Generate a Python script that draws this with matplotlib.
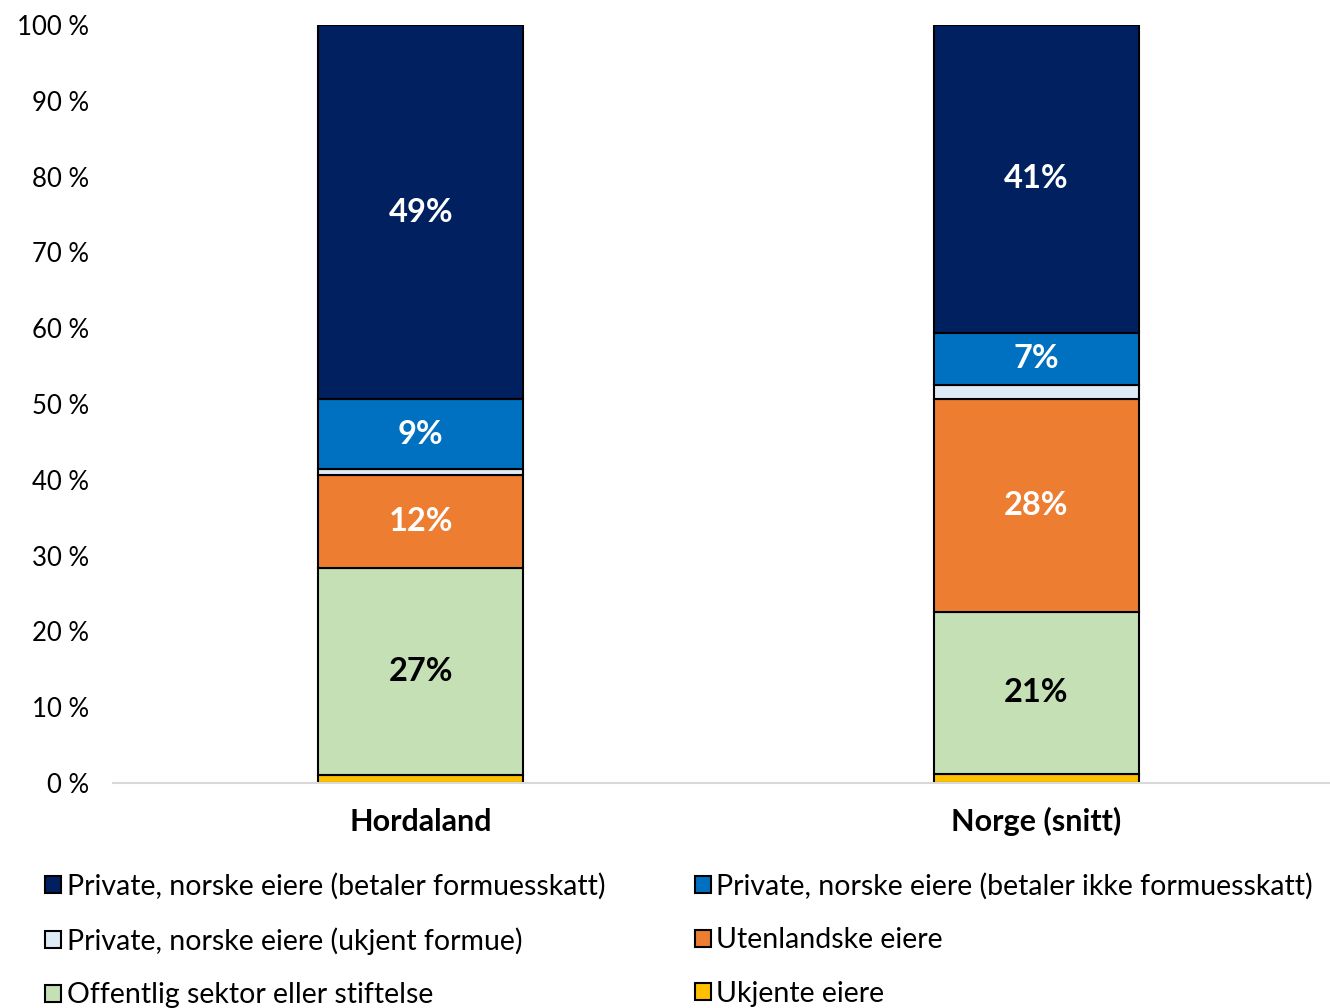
import matplotlib.pyplot as plt
import numpy as np

categories = ["Hordaland", "Norge (snitt)"]
series_names = [
    "Ukjente eiere",
    "Offentlig sektor eller stiftelse",
    "Utenlandske eiere",
    "Private, norske eiere (ukjent formue)",
    "Private, norske eiere (betaler ikke formuesskatt)",
    "Private, norske eiere (betaler formuesskatt)",
]
# shares in percent, bottom to top
ukjente = [1.0, 1.2]
offentlig = [27.4, 21.4]
utenlandske = [12.3, 28.1]
ukjent_formue = [0.7, 1.8]
ikke_formuesskatt = [9.2, 6.9]
formuesskatt = [49.4, 40.6]
series = [ukjente, offentlig, utenlandske, ukjent_formue, ikke_formuesskatt, formuesskatt]
colors = ["#FFC000", "#C5E0B4", "#ED7D31", "#DEEBF7", "#0070C0", "#002060"]
label_colors = [None, "black", "white", None, "white", "white"]

plt.rcParams['font.family'] = ['Lato', 'DejaVu Sans']

fig = plt.figure(figsize=(13.3, 10.08), dpi=100)
ax = fig.add_axes([0.085, 0.2232, 0.9255, 0.752])

x = np.arange(len(categories))
bottom = np.zeros(len(categories))
bars = {}
for name, vals, col, lc in zip(series_names, series, colors, label_colors):
    vals = np.array(vals)
    b = ax.bar(x, vals, 0.333, bottom=bottom, color=col, edgecolor="black",
               linewidth=1.5, label=name)
    bars[name] = b
    if lc is not None:
        for xi, v, bt in zip(x, vals, bottom):
            ax.text(xi, bt + v / 2, f"{v:.0f}%", ha="center", va="center",
                    color=lc, fontsize=23.5, fontweight="bold")
    bottom += vals

ax.set_xlim(-0.5, 1.5)
ax.set_ylim(0, 100)
ax.set_yticks(np.arange(0, 101, 10))
ax.set_yticklabels([f"{t} %" for t in range(0, 101, 10)], fontsize=18.5)
ax.set_xticks(x)
ax.set_xticklabels(categories, fontsize=22, fontweight="bold")
for t in ax.get_xticklabels():
    t.set_verticalalignment("center_baseline")
ax.tick_params(axis="both", length=0)
ax.tick_params(axis="x", pad=26)
ax.tick_params(axis="y", pad=17)
for s in ["top", "right", "left"]:
    ax.spines[s].set_visible(False)
ax.spines["bottom"].set_color("#D9D9D9")
ax.spines["bottom"].set_linewidth(1.5)

order = [5, 3, 1, 4, 2, 0]
handles = [bars[series_names[i]] for i in order]
labels = [series_names[i] for i in order]
fig.legend(handles, labels, ncol=2, loc="upper left", bbox_to_anchor=(0.0255, 0.1455),
           frameon=False, fontsize=20.5, handlelength=0.55, handleheight=0.55,
           handletextpad=0.2, columnspacing=3.15, labelspacing=0.97,
           borderaxespad=0)

fig.savefig("out.png", dpi=100)
